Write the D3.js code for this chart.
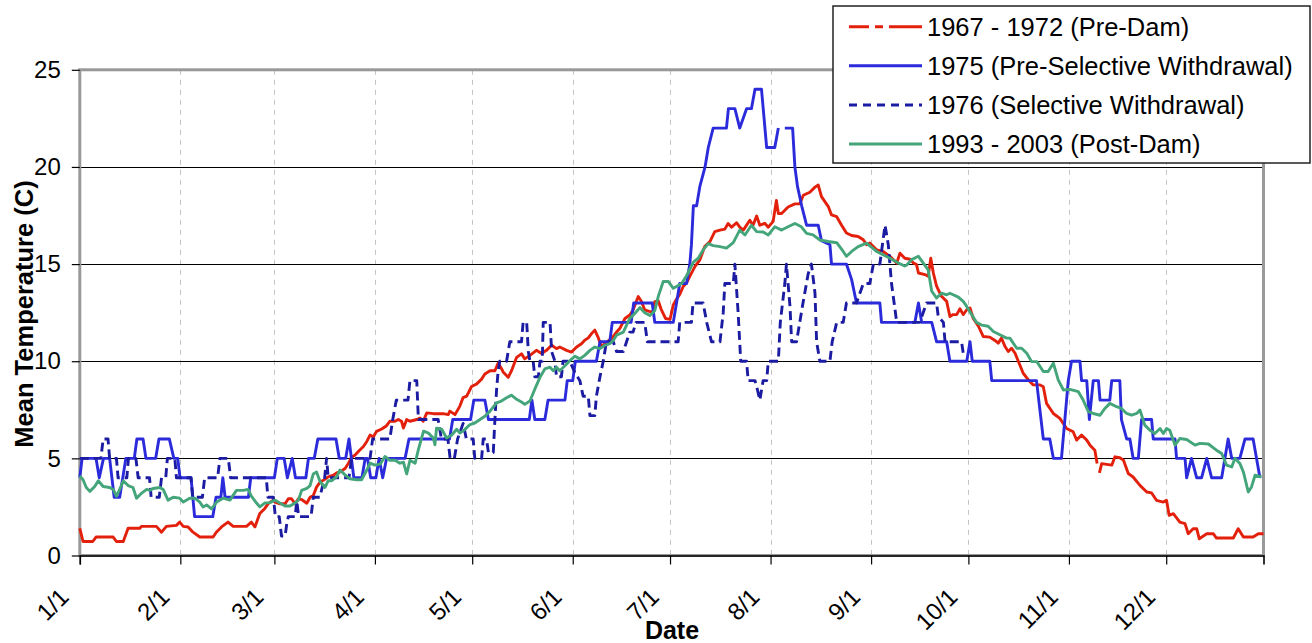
<!DOCTYPE html>
<html><head><meta charset="utf-8">
<script src="https://cdn.jsdelivr.net/npm/d3@7"></script>
<style>
html,body{margin:0;padding:0;background:#fff;}
svg{display:block;font-family:"Liberation Sans",Arial,sans-serif;}
</style></head>
<body><svg id="c" width="1312" height="643"></svg>
<script>
// ---------- DATA ----------
const monthLabels = ["1/1","2/1","3/1","4/1","5/1","6/1","7/1","8/1","9/1","10/1","11/1","12/1"];
const monthDays = [0,31,60,91,121,152,182,213,244,274,305,335];
const yTickValues = [0,5,10,15,20,25];
const seriesNames = ["1967 - 1972 (Pre-Dam)","1975 (Pre-Selective Withdrawal)","1976 (Selective Withdrawal)","1993 - 2003 (Post-Dam)"];

// [day of year, mean temperature C]; null = gap
const preDam = [[0,1.4],[1,0.72],[4,0.72],[5,0.95],[10.3,0.95],[11.3,0.72],[13.4,0.72],[14.9,1.4],[18.5,1.4],[19,1.5],[23.6,1.5],[25.2,1.2],[26.7,1.5],[29.8,1.55],[30.8,1.72],[31.9,1.5],[33.4,1.47],[34.9,1.2],[37,0.95],[41.1,0.95],[42.1,1.2],[43.7,1.47],[45.7,1.72],[47.3,1.5],[51.4,1.5],[52.9,1.72],[54,1.47],[55.5,2.16],[57,2.41],[58.1,2.67],[59.6,2.85],[60.2,2.75],[61.7,2.66],[63.3,2.66],[64.3,2.92],[65.3,2.92],[66.4,2.66],[67.4,2.92],[68.4,2.88],[70,2.69],[71,3.0],[72,3.09],[73,3.52],[74.1,3.78],[75.1,3.87],[76.6,4.05],[78.2,4.13],[79.2,4.25],[80.2,4.3],[81.8,4.48],[82.8,4.74],[83.8,5.05],[84.9,5.17],[85.9,5.35],[86.9,5.52],[87.4,5.6],[88.5,5.87],[89.5,6.2],[90.5,6.1],[91.5,6.39],[93.1,6.51],[94.6,6.68],[95.6,6.91],[97.2,6.91],[98.2,7.0],[99.2,6.91],[99.8,6.56],[100.8,7.0],[101.8,6.91],[103.9,7.0],[104.9,7.08],[105.9,6.91],[107,7.34],[109,7.3],[112.1,7.3],[113.6,7.25],[114.1,7.43],[115.7,7.25],[117.2,7.69],[118.2,8.13],[119.3,8.2],[120.8,8.7],[122.3,8.82],[123.9,9.08],[124.9,9.34],[126.5,9.51],[128,9.51],[129,9.9],[130.1,9.6],[130.6,9.43],[132.1,9.17],[133.1,9.5],[134.7,10.2],[136.2,10.38],[137.2,10.12],[138.8,10.3],[140.8,10.56],[142.4,10.4],[143.9,10.56],[145.5,10.82],[147,10.65],[148,10.73],[150.1,10.56],[151.6,10.47],[153.2,10.73],[154.7,10.9],[155.7,11.08],[156.8,11.2],[157.8,11.42],[158.8,11.6],[159.9,11.2],[160.9,10.73],[162.4,10.99],[164,11.16],[165.5,11.5],[166.5,11.68],[168.1,12.2],[169.6,12.38],[170.6,12.64],[172.2,13.33],[173.2,13.07],[174.2,12.64],[175.8,12.55],[176.8,12.55],[177.3,13.07],[178.4,13.1],[179.2,12.7],[180.6,12.2],[182,12.15],[183,12.9],[184,13.2],[185,13.44],[186.1,13.86],[187.1,14.03],[188.1,14.37],[189.7,14.88],[191.2,15.22],[192.7,15.9],[194.3,16.16],[195.8,16.67],[197.4,16.75],[198.9,16.8],[199.9,17.09],[201,16.9],[202.5,17.13],[203.5,16.9],[204.6,16.75],[206.6,17.26],[207.6,17.0],[208.7,17.47],[209.7,17.0],[211.2,17.1],[212.3,16.9],[213.8,17.2],[214.8,18.28],[215.4,17.6],[216.4,17.6],[218.4,17.94],[220.5,18.1],[222,18.1],[223.1,18.54],[225.1,18.7],[226.7,18.96],[227.7,19.07],[228.7,18.47],[229.8,18.2],[230.8,17.96],[231.8,17.53],[233.4,17.44],[234.9,17.0],[236.4,16.6],[238,16.47],[240,16.42],[241.6,16.25],[242.6,16.0],[243.6,16.08],[245.7,15.73],[247.7,15.65],[249.8,15.4],[251.9,15.05],[252.9,15.56],[254.4,15.3],[256,15.25],[257,15.06],[258,14.98],[258.6,14.54],[260.6,14.46],[261.6,14.37],[262.4,15.3],[263.2,14.54],[264.2,13.86],[265.7,13.34],[267.3,13.08],[268.3,12.3],[269.3,12.4],[270.4,12.4],[271.4,12.7],[272.4,12.4],[273.5,12.65],[274.5,12.74],[275.5,12.2],[277.1,11.8],[278.6,11.27],[280.6,11.24],[282.2,11.07],[283.2,10.93],[284.2,11.19],[285.3,10.76],[286.3,10.5],[287.3,10.67],[288.4,10.41],[289.4,10.0],[290.9,9.38],[292.5,9.04],[294,8.78],[296.1,8.78],[297.1,8.69],[298.1,7.83],[300.2,7.31],[302.2,7.06],[304.3,6.54],[306.3,6.37],[307.4,5.94],[308.9,6.2],[310.5,5.94],[311.5,5.68],[313,5.42],[313.7,4.73],null,[314.4,4.25],[315.1,4.73],[318.2,4.65],[319.2,5.08],[320.7,5.03],[321.8,4.91],[323.3,4.22],[324.8,4.04],[326.9,3.61],[329,3.27],[330.5,3.22],[332,2.84],[334.1,2.75],[335.1,2.84],[335.9,2.07],[337.2,2.15],[339.2,1.72],[340.8,1.64],[341.8,1.12],[343.3,1.38],[344.4,1.38],[345.2,0.86],[347.5,1.12],[349.5,1.12],[350.5,0.9],[355.7,0.9],[357.2,1.38],[358.8,0.95],[361.8,0.95],[363.4,1.12],[365,1.12]];

const preSelective = [[0,4],[0.7,5],[5,5],[6,4],[7.3,5],[9.2,5],[10.6,3],[12.3,3],[14.2,5],[16.8,5],[17.6,6],[19.5,6],[20.4,5],[23.4,5],[24.4,6],[27.6,6],[29,5],[30.2,5],[30.9,4],[34.3,4],[35.4,2],[41,2],[42,3],[43.5,3],[44.1,4],[44.8,3],[52,3],[52.7,4],[60,4],[60.9,5],[63,5],[64,4],[65.5,5],[66.5,4],[69.7,4],[70.5,5],[72.3,5],[73.4,6],[79,6],[80,5],[82,5],[83,6],[84.5,4],[87,4],[88,5],[88.7,5],[89.7,4],[91.3,4],[92.3,5],[93.4,4],[94.6,5],[100.3,5],[101.5,6],[114,6],[115,7],[120.5,7],[121.5,8],[124.9,8],[126,7],[138.6,7],[139.4,8],[140.3,7],[143.4,7],[144.4,8],[149.6,8],[150.3,9],[152,9],[152.8,10],[159.3,10],[160.4,11],[163.4,11],[164.2,12],[170,12],[170.8,13],[176.5,13],[177.3,12],[183,12],[184,13],[185,14],[187.1,14],[188.1,15],[188.6,16],[189.2,18],[190.2,18],[191.2,19],[192.8,20],[193.8,21],[195.3,22],[199.4,22],[200,23],[202,23],[203.5,22],[205.6,23],[207.1,23],[208.2,24],[210.2,24],[211.8,21],[214.3,21],[215.4,22],null,[217.4,22],[219.8,22],[220.5,20],[221.3,19],[222.6,18],[224.1,17],[227.7,17],[228.7,16.2],[231.3,16],[231.8,15],[236.4,15],[238,14.2],[239.5,13],[246.7,13],[247.2,12],[257.5,12],[258.6,13],[259.6,12],[262.7,12],[264.2,11],[267.3,11],[268.3,10],[273.5,10],[274.5,11],[275.2,10],[280.6,10],[281.2,9],[295,9],[297.1,6],[299.1,6],[300.2,5],[302.7,5],[304.8,9],[305.8,10],[308.4,10],[308.9,9],[310.5,9],[311.3,7],[312.5,9],[314.1,9],[314.6,8],[317.6,8],[318.2,9],[320.7,9],[321.2,7],[322.8,6],[323.8,6],[324.8,5],[326.4,5],[327.4,7],[330.5,7],[331,6],[337.7,6],[338.2,5],[340.8,5],[341.3,4],[342.8,5],[344.4,4],[345.9,4],[347.5,5],[349,4],[352.1,4],[354.1,6],[355.2,5],[357.7,5],[359.3,6],[361.8,6],[363.9,4]];

const selective = [[0,5],[6.5,5],[7.2,6],[8.7,6],[9.2,5],[11.3,5],[11.8,4],[14.5,4],[15,5],[17.3,5],[18,4],[21.5,4],[22,3],[24.5,3],[25.2,4],[26.5,4],[27,5],[29.3,5],[29.8,4],[34.3,4],[34.8,3],[37.8,3],[38.5,4],[42.5,4],[43.2,5],[45.8,5],[46.5,4],[57.5,4],[58,3],[59.7,3],[60.3,2],[61.5,2],[62.2,1],[63.3,1],[63.8,1.6],[64.3,2],[66.4,2],[66.9,2.8],[67.5,2],[71.3,2],[72,3],[74,3],[75.5,4],[76.1,5],[76.6,4],[83,4],[83.8,5],[89.5,5],[90.3,6],[95.6,6],[96.5,7],[97.6,8],[101.2,8],[101.8,9],[103.9,9],[104.4,7],[110.5,7],[111.5,6],[113.5,6],[114.2,5],[115.5,5],[116.5,6],[118.2,6.8],[119.2,6],[121.3,6],[121.8,5],[123.9,5],[124.4,6],[125.4,6],[126,5.3],[127.5,5.3],[128,7],[128.5,8.5],[129,9.5],[129.5,10],[131.6,10],[132.6,11],[136.2,11],[136.7,12],[137.8,12],[138.3,10.5],[138.8,10],[139.8,10],[140.3,9.2],[141.4,9.2],[141.9,10],[142.6,10],[142.9,12],[145,12],[145.5,10.5],[146.5,10],[147,9.2],[148.5,9.2],[149,10],[151.1,10],[152.7,9.4],[154.2,9],[155.2,8.2],[156.8,8.2],[157.3,7.2],[158.8,7.2],[159.3,8.2],[160.4,9.2],[161.4,10],[162.4,11],[164.5,11],[165.5,10.5],[167.6,10.5],[168.6,11],[169.6,11.5],[170.6,11.5],[171.5,12],[174.2,12],[175,11],[184.5,11],[185,12],[188.6,12],[189.1,13],[192.2,13],[193.3,12],[194.8,11],[197.4,11],[198.4,12.5],[198.9,14],[201.5,14],[202,15],[203,12.5],[203.8,10],[205.6,10],[206.1,9],[208.2,9],[209,8.5],[209.7,8],[210.7,9],[211.8,9],[212.3,10],[215.4,10],[216,12],[217.4,14],[217.9,15],[219,12.8],[219.5,11],[221,11],[222,12],[223,13],[224.6,14.5],[225.6,15],[226.7,13.5],[227.2,11],[228.2,10],[231.3,10],[232,11],[233.4,12],[235.4,12],[236.4,13],[239.5,13],[241.6,14],[243.6,14],[244.7,15],[246.7,15],[247.5,16],[248.3,17],[249.3,16],[250.3,14],[251.9,12],[259,12],[261.1,13],[264.2,13],[264.7,12.3],[266.3,12],[266.8,11],[271.9,11],[272.5,10.3]];

const postDam = [[0,4.1],[1,3.9],[2,3.5],[3.1,3.3],[4.6,3.55],[5.7,3.85],[7.2,3.55],[9.2,3.5],[10.3,3.4],[11.3,3.05],[12.3,3.4],[13.4,3.85],[14.9,3.6],[16.4,3.5],[17.5,2.95],[19,3.2],[20.6,3.4],[21.6,3.35],[22.6,3.45],[24.7,3.5],[25.7,3.4],[27.2,2.85],[28.8,3.0],[30.8,2.95],[31.9,2.75],[33.9,2.95],[35.5,2.95],[37,2.75],[38,2.5],[39.1,2.6],[40.6,2.4],[42.2,2.75],[44.2,2.95],[46.3,2.85],[48.3,3.35],[50.4,3.35],[51.9,3.4],[52.9,3.05],[54.5,2.7],[55.5,2.5],[57,2.7],[58.6,2.72],[60.2,2.85],[61.7,2.7],[63.3,2.55],[64.8,2.55],[66.4,2.7],[67.4,2.85],[68.4,3.35],[70,3.45],[71,3.6],[72,4.2],[73,4.3],[74.1,3.8],[75.6,3.5],[76.6,3.85],[77.7,3.85],[79.2,4.05],[80.2,4.4],[81.8,4.15],[83.3,3.95],[85.4,3.9],[86.9,3.9],[88.5,4.4],[89.5,4.75],[91,4.65],[92.6,4.7],[94.1,5.1],[95.6,4.9],[97.2,4.9],[98.7,4.75],[99.8,4.8],[100.8,4.2],[101.8,4.9],[103.4,4.75],[104.4,5.45],[106,6.4],[107.5,6.3],[109,6.05],[109.5,5.7],[110,6.55],[111.6,6.5],[113.1,6.05],[114.7,6.2],[116.2,6.5],[117.2,6.3],[118.7,6.48],[120.3,6.74],[121.8,6.82],[123.4,7.0],[124.9,7.17],[126.5,7.43],[128.5,7.86],[130,7.95],[131.6,8.12],[133.1,8.25],[134.7,8.04],[136.2,7.9],[137.2,7.78],[138.8,7.95],[140.3,8.56],[141.9,9.17],[143.4,9.6],[145,9.69],[146,9.51],[147,9.69],[148,9.51],[149.6,9.77],[151.1,10.03],[152.7,10.26],[154.2,10.12],[155.7,10.3],[157.3,10.56],[158.8,10.73],[160.4,10.65],[161.9,10.82],[163.4,10.9],[164.5,11.07],[165.5,11.34],[167.6,11.5],[168.6,11.86],[169.6,12.2],[171.2,12.47],[172.7,12.76],[174.2,12.5],[175.8,12.35],[177.3,12.6],[178.4,13.35],[179.9,14.1],[181.5,14.1],[183,13.75],[184,13.85],[185.6,14.0],[187.1,14.4],[189.2,15.1],[190.7,15.3],[192.2,15.73],[193.8,16.05],[195.3,15.95],[197.4,15.9],[199.4,15.82],[201.5,16.1],[203.5,16.75],[205.1,16.5],[207.1,17.0],[208.7,16.67],[210.7,16.65],[212.3,16.5],[214.3,16.92],[216.4,16.75],[218.4,16.92],[220.5,17.09],[222.5,16.92],[224.1,16.58],[226.1,16.5],[228.2,16.24],[230.8,16.16],[233.4,16.1],[235.4,15.65],[236.4,15.4],[238,15.65],[240,15.9],[242.6,16.08],[245.7,15.65],[247.7,15.48],[249.8,15.3],[252.4,15.05],[254.4,14.9],[255,14.95],[256.5,15.23],[258.6,15.4],[260.1,15.05],[261.6,14.7],[262.7,13.6],[264.2,13.25],[265.7,13.5],[267.3,13.42],[268.3,13.5],[270.9,13.3],[272.4,13.08],[273.5,12.82],[275,12.4],[276.5,12.0],[278.1,11.86],[280.1,11.8],[281.7,11.53],[283.7,11.36],[285.8,11.19],[286.8,11.19],[288.9,10.67],[290.4,10.67],[292,10.41],[293.5,9.98],[295.1,9.98],[297.1,9.47],[298.6,9.47],[300.2,9.9],[301.7,9.04],[303.3,8.52],[305.3,8.55],[307.9,8.43],[309.4,8.0],[311,7.4],[312.5,7.31],[314.6,7.22],[316.1,7.57],[317.6,7.83],[319.7,7.66],[321.2,7.57],[322.8,7.31],[324.3,7.22],[325.9,7.31],[326.9,7.49],[328.4,6.71],[330,6.45],[331.5,6.28],[333.1,6.54],[334.1,6.28],[335.1,6.54],[336.1,6.45],[337.7,5.68],[339.2,6.02],[341.3,5.97],[343.9,5.68],[345.4,5.77],[348,5.74],[350.5,5.42],[352.1,5.25],[353.6,4.65],[355.2,4.56],[356.2,5.0],[357.7,4.74],[358.8,4.3],[360.3,3.27],[361.3,3.53],[362.4,4.13],[364.4,4.04]];

// ---------- DRAW ----------
const svg = d3.select("#c");
const L = 79.8, R = 1263.5, T = 69.8, B = 555.5;
const x = d3.scaleLinear().domain([0,365]).range([L,R]);
const y = d3.scaleLinear().domain([0,25]).range([B,T]);
const crisp = v => Math.round(v) + 0.5;

// vertical dashed gridlines
svg.append("g").selectAll("line").data(monthDays.slice(1)).join("line")
  .attr("x1",d=>crisp(x(d))).attr("x2",d=>crisp(x(d))).attr("y1",T).attr("y2",B)
  .attr("stroke","#c4c4c4").attr("stroke-width",1).attr("stroke-dasharray","5,5");
// horizontal gridlines
svg.append("g").selectAll("line").data(yTickValues.filter(v=>v>0&&v<25)).join("line")
  .attr("x1",L).attr("x2",R).attr("y1",d=>crisp(y(d))).attr("y2",d=>crisp(y(d)))
  .attr("stroke","#000").attr("stroke-width",1).attr("shape-rendering","crispEdges");
// plot border
svg.append("rect").attr("x",L).attr("y",T).attr("width",R-L).attr("height",B-T)
  .attr("fill","none").attr("stroke","#999").attr("stroke-width",3);

// axes
const yAxis = svg.append("g").attr("transform",`translate(${L},0)`)
  .call(d3.axisLeft(y).tickValues(yTickValues).tickSize(8).tickPadding(11).tickFormat(d3.format("d")));
yAxis.select(".domain").remove();
yAxis.selectAll("line").attr("stroke","#000").attr("stroke-width",1.2);
yAxis.selectAll("text").attr("font-size",24).attr("fill","#000").attr("font-family","Liberation Sans, Arial, sans-serif");

const xAxis = svg.append("g").attr("transform",`translate(0,${B})`)
  .call(d3.axisBottom(x).tickValues(monthDays).tickSize(9).tickFormat((d,i)=>monthLabels[i]));
xAxis.select(".domain").attr("stroke","#000").attr("stroke-width",1.6);
xAxis.selectAll("line").attr("stroke","#000").attr("stroke-width",1.2);
xAxis.selectAll("text")
  .attr("font-size",24).attr("fill","#000").attr("font-family","Liberation Sans, Arial, sans-serif")
  .attr("text-anchor","end").attr("dy",null).attr("y",null)
  .attr("transform","translate(-10,43) rotate(-45)");

// axis titles
svg.append("text").attr("x",672).attr("y",639).attr("text-anchor","middle")
  .attr("font-weight","bold").attr("font-size",25).text("Date");
svg.append("text").attr("transform","translate(33,314) rotate(-90)").attr("text-anchor","middle")
  .attr("font-weight","bold").attr("font-size",25.5).text("Mean Temperature (C)");

// series
const line = d3.line().defined(d=>d!==null).x(d=>x(d[0])).y(d=>y(d[1]));
const styles = [
  {data:preDam,color:"#e3200b",dash:null,legendDash:"20,6,8,6,40"},
  {data:preSelective,color:"#2b2bdc",dash:null,legendDash:null},
  {data:selective,color:"#1c1ca3",dash:"9,5",legendDash:"8,6"},
  {data:postDam,color:"#45a57a",dash:null,legendDash:null}
];
const plot = svg.append("g");
styles.forEach(s=>{
  plot.append("path").datum(s.data).attr("d",line).attr("fill","none")
    .attr("stroke",s.color).attr("stroke-width",2.9).attr("stroke-linejoin","round")
    .attr("stroke-dasharray",s.dash);
});

// legend
const lg = svg.append("g");
lg.append("rect").attr("x",833).attr("y",6).attr("width",477).attr("height",157)
  .attr("fill","#fff").attr("stroke","#222").attr("stroke-width",1.5);
const rowY = [26.7,65.7,105,144];
styles.forEach((s,i)=>{
  lg.append("line").attr("x1",849).attr("x2",922).attr("y1",rowY[i]).attr("y2",rowY[i])
    .attr("stroke",s.color).attr("stroke-width",3).attr("stroke-dasharray",s.legendDash);
  lg.append("text").attr("x",927).attr("y",rowY[i]).attr("dy","0.35em")
    .attr("font-size",25.5).attr("fill","#000").text(seriesNames[i]);
});
</script></body></html>
